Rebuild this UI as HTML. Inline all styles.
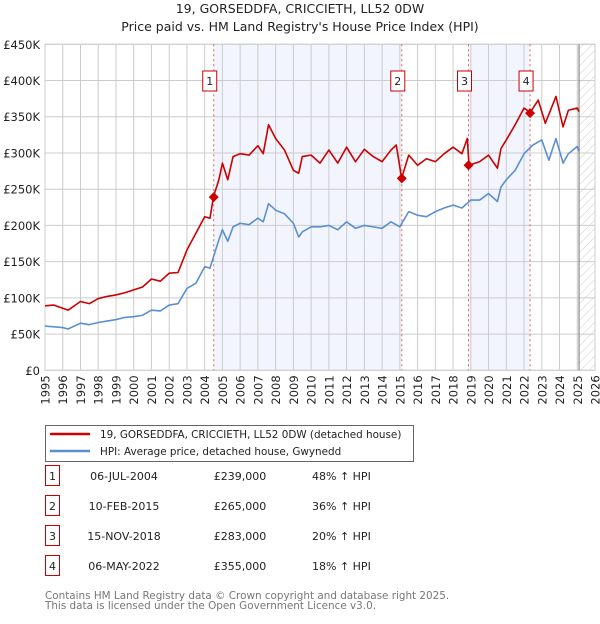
<!DOCTYPE html>
<html><head><meta charset="utf-8">
<style>
body{margin:0;background:#fff;font-family:"DejaVu Sans","Liberation Sans",sans-serif;}
svg text{font-family:"DejaVu Sans","Liberation Sans",sans-serif;}
</style></head>
<body>
<svg id="chart" width="600" height="620" xmlns="http://www.w3.org/2000/svg">
<defs>
<pattern id="hatch" width="6" height="6" patternUnits="userSpaceOnUse" patternTransform="rotate(45)">
<line x1="0" y1="0" x2="0" y2="6" stroke="#ccc" stroke-width="1"/>
</pattern>
</defs>
<text x="300" y="13" text-anchor="middle" font-size="12.5" fill="#222">19, GORSEDDFA, CRICCIETH, LL52 0DW</text>
<text x="300" y="31" text-anchor="middle" font-size="12.5" fill="#222">Price paid vs. HM Land Registry's House Price Index (HPI)</text>
<g id="plot"></g>
<g>
<rect x="45.5" y="425.5" width="368" height="36" fill="#fff" stroke="#666"/>
<line x1="50" y1="434" x2="90" y2="434" stroke="#cc0000" stroke-width="2.5"/>
<text x="100" y="438" font-size="10.4" fill="#222">19, GORSEDDFA, CRICCIETH, LL52 0DW (detached house)</text>
<line x1="50" y1="451" x2="90" y2="451" stroke="#5b8fd0" stroke-width="2.5"/>
<text x="100" y="455" font-size="10.4" fill="#222">HPI: Average price, detached house, Gwynedd</text>
</g>
<g id="table"></g>
<text x="45" y="599" font-size="10.4" fill="#777">Contains HM Land Registry data © Crown copyright and database right 2025.</text>
<text x="45" y="609" font-size="10.4" fill="#777">This data is licensed under the Open Government Licence v3.0.</text>
</svg>
<script>
const hpiYears=[1995,1996,1996.3,1997,1997.5,1998,1998.5,1999,1999.5,2000,2000.5,2001,2001.5,2002,2002.5,2003,2003.5,2004,2004.3,2004.5,2004.8,2005,2005.3,2005.6,2006,2006.5,2007,2007.3,2007.6,2008,2008.5,2009,2009.3,2009.5,2010,2010.5,2011,2011.5,2012,2012.5,2013,2013.5,2014,2014.5,2015,2015.5,2016,2016.5,2017,2017.5,2018,2018.5,2019,2019.5,2020,2020.5,2020.7,2021,2021.5,2022,2022.5,2023,2023.4,2023.8,2024.2,2024.5,2025,2025.1];
const hpiValues=[61,59,57,65,63,66,68,70,73,74,76,83,82,90,92,113,120,143,141,157,180,194,178,198,203,201,210,205,230,221,216,203,184,191,198,198,200,194,205,196,200,198,196,205,198,219,214,212,219,224,228,224,235,235,244,233,253,263,276,299,311,318,290,320,286,299,309,302];
const priceYears=[1995,1995.5,1996.3,1997,1997.5,1998,1998.5,1999,1999.5,2000,2000.5,2001,2001.5,2002,2002.5,2003,2003.5,2004,2004.3,2004.5,2004.8,2005,2005.3,2005.6,2006,2006.5,2007,2007.3,2007.6,2008,2008.5,2009,2009.3,2009.5,2010,2010.5,2011,2011.5,2012,2012.5,2013,2013.5,2014,2014.5,2014.8,2015.1,2015.5,2016,2016.5,2017,2017.5,2018,2018.5,2018.8,2018.9,2019.5,2020,2020.5,2020.7,2021,2021.5,2022,2022.35,2022.8,2023.2,2023.8,2024.2,2024.5,2025,2025.1];
const priceValues=[89,90,83,95,92,99,102,104,107,111,115,126,123,134,135,166,189,212,210,240,263,286,263,295,299,297,310,299,339,320,304,276,272,295,297,286,304,286,308,288,305,295,288,304,311,265,297,283,292,288,299,308,299,320,283,288,297,279,306,318,339,362,356,373,341,378,336,359,362,357];
const saleYears=[2004.51,2015.11,2018.87,2022.34];
const salePrices=[239,265,283,355];
const saleLabels=["1","2","3","4"];
const saleDates=["06-JUL-2004","10-FEB-2015","15-NOV-2018","06-MAY-2022"];
const salePriceText=["£239,000","£265,000","£283,000","£355,000"];
const saleHpiText=["48% ↑ HPI","36% ↑ HPI","20% ↑ HPI","18% ↑ HPI"];
const yTicks=[0,50,100,150,200,250,300,350,400,450];
const yTickLabels=["£0","£50K","£100K","£150K","£200K","£250K","£300K","£350K","£400K","£450K"];
const xTicks=[1995,1996,1997,1998,1999,2000,2001,2002,2003,2004,2005,2006,2007,2008,2009,2010,2011,2012,2013,2014,2015,2016,2017,2018,2019,2020,2021,2022,2023,2024,2025,2026];
const dataEnd=2025.1;

const L=45,R=595,T=44.3,B=370.3;
const x=y=>L+(y-1995)/(2026-1995)*(R-L);
const yv=v=>B-v/450*(B-T);
const NS="http://www.w3.org/2000/svg";
const plot=document.getElementById('plot');
function mk(tag,attrs,parent){const e=document.createElementNS(NS,tag);for(const k in attrs)e.setAttribute(k,attrs[k]);(parent||plot).appendChild(e);return e;}

for(let i=0;i<saleYears.length;i+=2){
  const x1=x(saleYears[i]);const x2=i+1<saleYears.length?x(saleYears[i+1]):x(dataEnd);
  const r=mk('rect',{x:x1,y:T,width:x2-x1,height:B-T,fill:'#f2f5fd'});
  
  
}
const h=mk('rect',{x:x(dataEnd),y:T,width:R-x(dataEnd),height:B-T,fill:'url(#hatch)'});


xTicks.forEach(t=>{
  const g=mk('line',{x1:x(t),y1:T,x2:x(t),y2:B,stroke:'#ccc','stroke-width':1});
  
  
  const lb=mk('text',{x:0,y:0,transform:`translate(${x(t)+4.5},${B+5}) rotate(-90)`,'text-anchor':'end','font-size':11.5,fill:'#222'});
  lb.textContent=t;
  
  
});
yTicks.forEach((t,i)=>{
  const g=mk('line',{x1:L,y1:yv(t),x2:R,y2:yv(t),stroke:'#ccc','stroke-width':1});
  
  
  const lb=mk('text',{x:40,y:yv(t)+4.5,'text-anchor':'end','font-size':11.5,fill:'#222'});
  lb.textContent=yTickLabels[i];
  
  
});
const bd=mk('rect',{x:L,y:T,width:R-L,height:B-T,fill:'none',stroke:'#ccc'});


const el=mk('line',{x1:x(dataEnd),y1:T,x2:x(dataEnd),y2:B,stroke:'#888','stroke-width':1.2});


saleYears.forEach((s,i)=>{
  const l=mk('line',{x1:x(s),y1:T,x2:x(s),y2:B,stroke:'#e06060','stroke-width':1,'stroke-dasharray':'2,3'});
  
  
});
const hp=mk('polyline',{points:hpiYears.map((t,i)=>x(t)+','+yv(hpiValues[i])).join(' '),fill:'none',stroke:'#5b8fd0','stroke-width':1.6,'stroke-linejoin':'round'});


const pp=mk('polyline',{points:priceYears.map((t,i)=>x(t)+','+yv(priceValues[i])).join(' '),fill:'none',stroke:'#cc0000','stroke-width':1.6,'stroke-linejoin':'round'});


saleYears.forEach((s,i)=>{
  const cx=x(s),cy=yv(salePrices[i]);
  const d=mk('polygon',{points:`${cx},${cy-5} ${cx+5},${cy} ${cx},${cy+5} ${cx-5},${cy}`,fill:'#cc0000'});
  
  
  const bx=mk('rect',{x:cx-11,y:71,width:14,height:20,fill:'#fff',stroke:'#cc0000'});
  
  
  const tx=mk('text',{x:cx-4,y:85,'text-anchor':'middle','font-size':11,fill:'#222'});
  tx.textContent=saleLabels[i];
  
  
});
const tb=document.getElementById('table');
saleLabels.forEach((lab,i)=>{
  const yy=476+i*30;
  const b=mk('rect',{x:45.5,y:yy-10.5,width:14,height:20,fill:'#fff',stroke:'#cc0000'},tb);
  
  
  const cells=[[52.5,lab,'middle'],[124,saleDates[i],'middle'],[240,salePriceText[i],'middle'],[312,saleHpiText[i],'start']];
  const names=['table-number','table-date','table-price','table-hpi-change'];
  cells.forEach((c,j)=>{
    const t=mk('text',{x:c[0],y:yy+4,'text-anchor':c[2],'font-size':11,fill:'#222'},tb);
    t.textContent=c[1];
    
    
  });
});
</script>
</body></html>
